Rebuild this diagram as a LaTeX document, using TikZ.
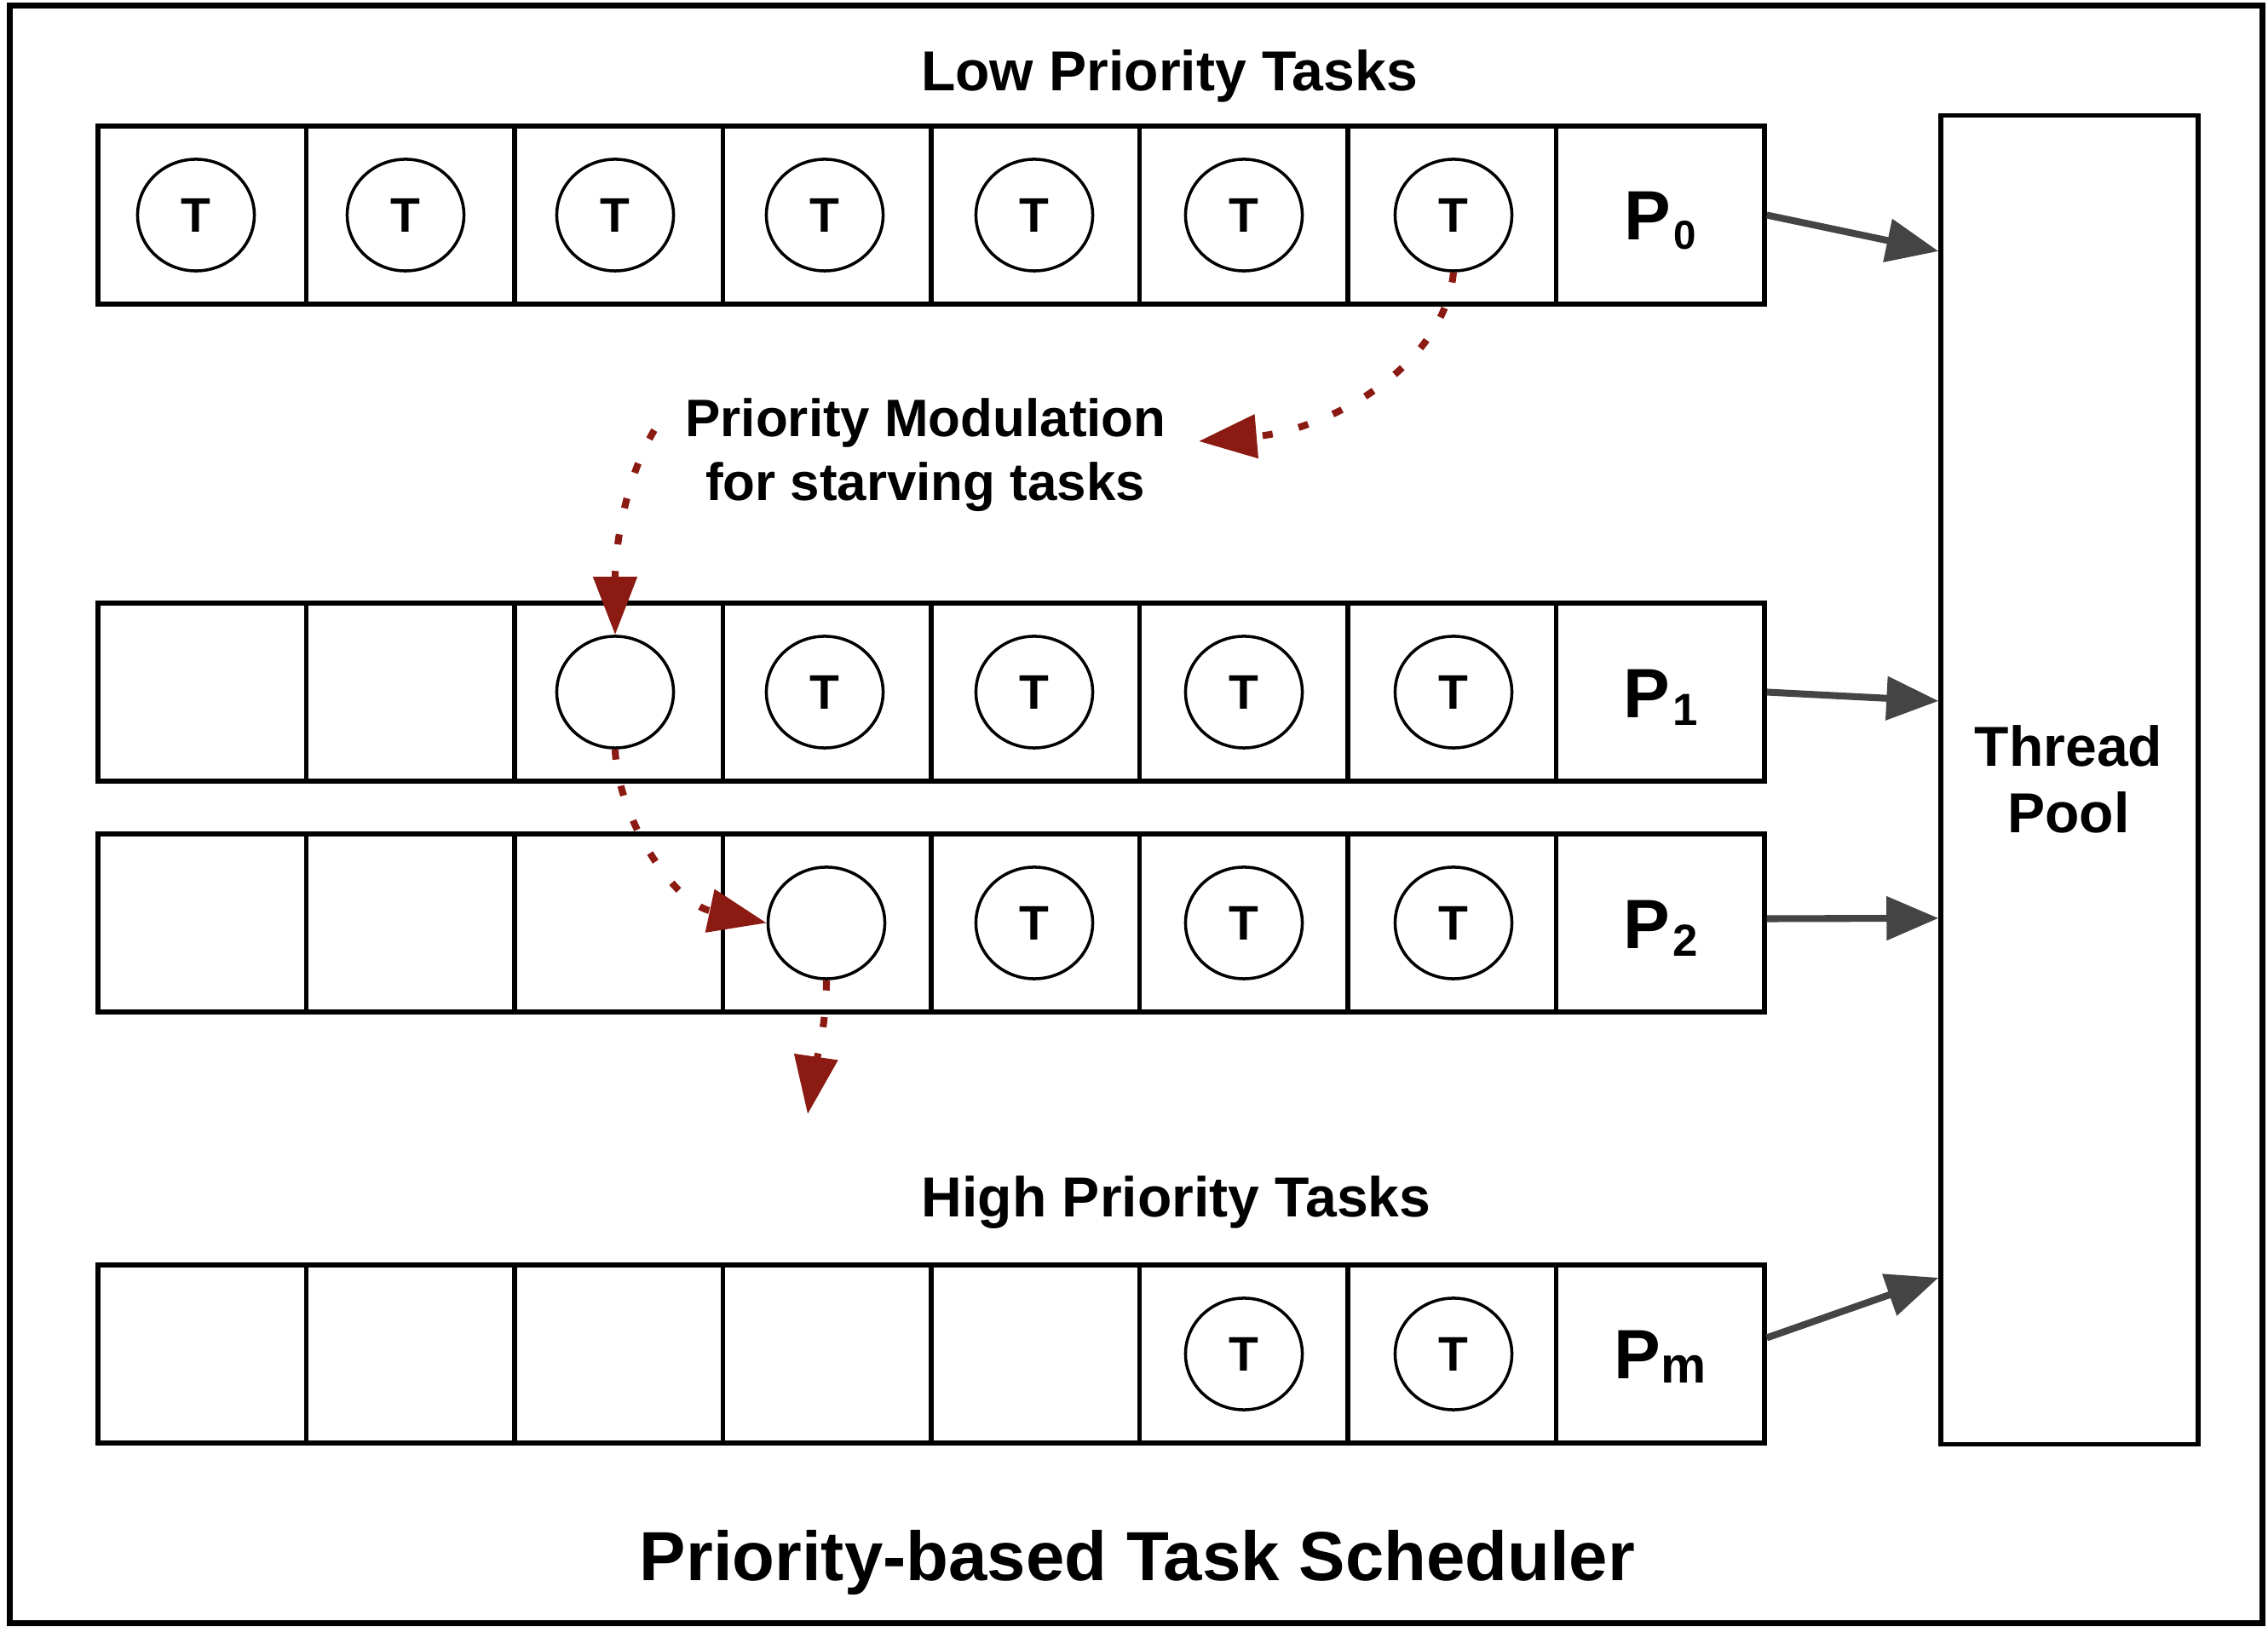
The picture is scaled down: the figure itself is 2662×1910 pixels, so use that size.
\documentclass[tikz,border=0pt]{standalone}
\usepackage{fontspec}
\setmainfont{Liberation Sans}
\usetikzlibrary{shapes.geometric,arrows.meta,calc}
\definecolor{arrgray}{HTML}{444444}
\definecolor{modred}{HTML}{8B1A12}
\begin{document}
\begin{tikzpicture}[x=0.01cm,y=-0.01cm,
  cell/.style={draw, rectangle, line width=1.5pt, minimum width=2.445cm, minimum height=2.09cm, inner sep=0pt},
  task/.style={draw, ellipse, line width=1pt, minimum width=1.37cm, minimum height=1.31cm, inner sep=0pt, font=\fontsize{16.2}{18}\selectfont\bfseries},
  plabel/.style={anchor=base, inner sep=0pt, font=\fontsize{23.3}{26}\selectfont\bfseries},
  title/.style={anchor=base, inner sep=0pt, font=\fontsize{18.8}{22}\selectfont\bfseries},
  modtext/.style={anchor=base, inner sep=0pt, font=\fontsize{17.6}{21}\selectfont\bfseries},
  feed/.style={draw=arrgray, line width=2.3pt, -{Triangle[length=0.61cm,width=0.5cm]}},
  modarrow/.style={draw=modred, line width=2.3pt, dash pattern=on 3.4pt off 8.9pt, -{Triangle[length=0.68cm,width=0.5cm]}}
]
\useasboundingbox (0,0) rectangle (2662,1910);
\fill[white] (0,0) rectangle (2662,1910);
% outer frame
\node[draw, line width=2pt, minimum width=26.43cm, minimum height=18.98cm, inner sep=0pt] (frame) at (1333.5,956) {};
% queue cells
\foreach \r/\yy in {0/252.5,1/812.5,2/1083.5,m/1589.5}{
  \foreach \k in {1,...,8}{
    \node[cell] (c\r-\k) at ({115+244.5*(\k-0.5)},\yy) {};
  }
}
% tasks row 0
\foreach \k in {1,...,7}{ \node[task] (t0-\k) at ({230+246*(\k-1)},252.5) {T}; }
% row 1
\node[task] (t1-3) at (722,812.5) {};
\foreach \k in {4,...,7}{ \node[task] (t1-\k) at ({230+246*(\k-1)},812.5) {T}; }
% row 2
\node[task] (t2-4) at (970,1083.5) {};
\foreach \k in {5,...,7}{ \node[task] (t2-\k) at ({230+246*(\k-1)},1083.5) {T}; }
% row m
\foreach \k in {6,7}{ \node[task] (tm-\k) at ({230+246*(\k-1)},1589.5) {T}; }
% priority labels
\node[plabel] (p0) at ($(c0-8.center)+(0,29.5)$) {P\kern1pt\raisebox{-3.1pt}{\fontsize{13.5}{14}\selectfont 0}};
\node[plabel] (p1) at ($(c1-8.center)+(0,30)$) {P\kern1pt\raisebox{-2.7pt}{\fontsize{15}{16}\selectfont 1}};
\node[plabel] (p2) at ($(c2-8.center)+(0,30)$) {P\kern1pt\raisebox{-2.7pt}{\fontsize{15}{16}\selectfont 2}};
\node[plabel] (pm) at ($(cm-8.center)+(0,29)$) {P\raisebox{-1.4pt}{\fontsize{17}{18}\selectfont m}};
% thread pool
\node[draw, line width=1.5pt, minimum width=3.02cm, minimum height=15.59cm, inner sep=0pt] (tp) at (2429,915.5) {};
\node[title] (tpa) at (2428,900) {Thread};
\node[title] (tpb) at (2428,978) {Pool};
% texts
\node[title] (low) at (1372.5,106.7) {Low Priority Tasks};
\node[title] (high) at (1380.5,1429) {High Priority Tasks};
\node[modtext] (mod1) at (1086.5,512.4) {Priority Modulation};
\node[modtext] (mod2) at (1086,588) {for starving tasks};
\node[anchor=base, inner sep=0pt, font=\fontsize{23.2}{27}\selectfont\bfseries] (sched) at (1335,1856) {Priority-based Task Scheduler};
% feed arrows
\coordinate (in0) at ($(tp.north west)+(0,162)$);
\coordinate (in1) at ($(tp.north west)+(0,690)$);
\coordinate (in2) at ($(tp.north west)+(0,945)$);
\coordinate (inm) at ($(tp.north west)+(0,1367)$);
\coordinate (s2) at ($(c2-8.east)+(0,-5)$);
\coordinate (sm) at ($(cm-8.east)+(0,-19)$);
\draw[feed] (c0-8.east) -- (in0);
\draw[feed] (c1-8.east) -- (in1);
\draw[feed] (s2) -- (in2);
\draw[feed] (sm) -- (inm);
% modulation arrows
\coordinate (m1end) at (1407,518);
\coordinate (m2start) at (768,505);
\coordinate (m4end) at (948,1308);
\draw[modarrow] (t0-7.south) .. controls (1695,430) and (1560,505) .. (m1end);
\draw[modarrow] (m2start) .. controls (735,560) and (722,640) .. (t1-3.north);
\draw[modarrow] (t1-3.south) .. controls (725,960) and (790,1060) .. (t2-4.west);
\draw[modarrow] (t2-4.south) .. controls (970,1210) and (955,1260) .. (m4end);
\end{tikzpicture}
\end{document}
